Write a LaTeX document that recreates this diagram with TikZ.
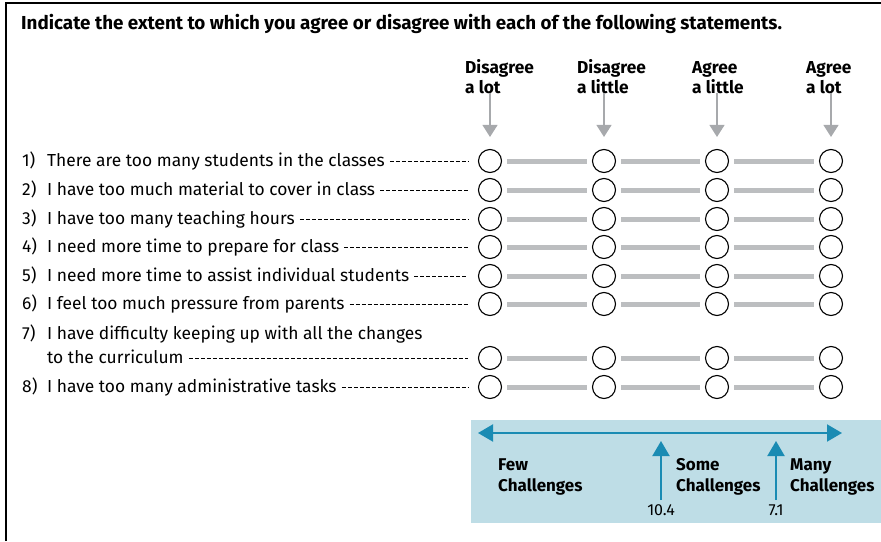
\documentclass[tikz,border=0pt]{standalone}
\usepackage{fontspec}
\setmainfont{Fira Sans}
\usetikzlibrary{positioning,arrows.meta}
\definecolor{boxblue}{HTML}{BEDDE6}
\definecolor{scaleblue}{HTML}{1A8BB3}
\definecolor{bargray}{HTML}{BCBEC0}
\definecolor{tipgray}{HTML}{A7A9AC}

\begin{document}
\begin{tikzpicture}[x=1pt, y=-1pt,
      title/.style={anchor=base west, inner sep=0pt, font=\bfseries\fontsize{18.8}{22}\selectfont},
      header/.style={anchor=base west, inner sep=0pt, align=left, font=\bfseries\fontsize{17.3}{19.5}\selectfont},
      statement/.style={anchor=base west, inner sep=0pt, font=\fontsize{17.4}{24}\selectfont},
      bubble/.style={circle, draw, line width=1.1pt, minimum size=23pt, inner sep=0pt},
      bar/.style={draw=bargray, line width=5pt, shorten <=5pt, shorten >=5pt},
      leader/.style={line width=0.8pt, dash pattern=on 4pt off 2pt, shorten <=5pt, shorten >=10pt},
      pointer/.style={draw=tipgray, line width=1.2pt, shorten >=12pt, -{Triangle[length=12pt, width=15pt]}},
      scalearrow/.style={draw=scaleblue, line width=2pt},
      boxlabel/.style={anchor=base west, inner sep=0pt, align=left, font=\bfseries\fontsize{17}{21}\selectfont},
      number/.style={anchor=base, inner xsep=0pt, inner ysep=4pt, font=\fontsize{16}{18}\selectfont}
      ]
      \useasboundingbox (0,0) rectangle (881,541);
      \draw[line width=2pt] (6,541) -- (6,3) -- (881,3);

      \node[title] (T) at (21,29) {Indicate the extent to which you agree or disagree with each of the following statements.};

      % answer columns
      \node[header] (H1) at (465,93) {Disagree\\a lot};
      \node[header] (H2) at (577,93) {Disagree\\a little};
      \node[header] (H3) at (692,93) {Agree\\a little};
      \node[header] (H4) at (806,93) {Agree\\a lot};

      % statements
      \node[statement] (S1) at (22,166.5) {\makebox[25pt][l]{1)}There are too many students in the classes};
      \node[statement] (S2) at (22,195.5) {\makebox[25pt][l]{2)}I have too much material to cover in class};
      \node[statement] (S3) at (22,224.5) {\makebox[25pt][l]{3)}I have too many teaching hours};
      \node[statement] (S4) at (22,252.5) {\makebox[25pt][l]{4)}I need more time to prepare for class\hspace{10pt}};
      \node[statement] (S5) at (22,281.5) {\makebox[25pt][l]{5)}I need more time to assist individual students};
      \node[statement] (S6) at (22,309.5) {\makebox[25pt][l]{6)}I feel too much pressure from parents};
      \node[statement] (S7) at (22,339.5) {\makebox[25pt][l]{7)}I have difficulty keeping up with all the changes};
      \node[statement] (S7b) at (47,363.5) {to the curriculum\hspace{-5pt}};
      \node[statement] (S8) at (22,392.5) {\makebox[25pt][l]{8)}I have too many administrative tasks\hspace{5pt}};

      % bubbles, bars and leaders
      \foreach \r/\y/\s in {1/161/S1, 2/190/S2, 3/219/S3, 4/247/S4, 5/276/S5, 6/304/S6, 7/358/S7b, 8/387/S8} {
        \foreach \c/\x in {1/490, 2/604, 3/717, 4/831}
          \node[bubble] (C\r-\c) at (\x,\y) {};
        \draw[bar] (C\r-1.east) -- (C\r-2.west);
        \draw[bar] (C\r-2.east) -- (C\r-3.west);
        \draw[bar] (C\r-3.east) -- (C\r-4.west);
        \draw[leader] (C\r-1.west -| \s.east) -- (C\r-1.west);
      }

      \draw[pointer] (H1.south -| C1-1) -- (C1-1.north);
      \draw[pointer] (H2.south -| C1-2) -- (C1-2.north);
      \draw[pointer] (H3.south -| C1-3) -- (C1-3.north);
      \draw[pointer] (H4.south -| C1-4) -- (C1-4.north);

      % scale key
      \fill[boxblue] (471,420) rectangle (881,523);
      \coordinate (FEW) at (478,433);
      \coordinate (MANY) at (842,433);
      \draw[scalearrow, {Triangle[length=15pt, width=17pt]}-{Triangle[length=15pt, width=17pt]}] (FEW) -- (MANY);
      \node[boxlabel] (L1) at (498,491) {Few\\Challenges};
      \node[boxlabel] (L2) at (676,491) {Some\\Challenges};
      \node[boxlabel] (L3) at (790,491) {Many\\Challenges};
      \node[number] (N1) at (661,515) {10.4};
      \node[number] (N2) at (776,515) {7.1};
      \draw[scalearrow, shorten >=8pt, -{Triangle[length=15pt, width=17pt]}] (N1.north) -- (N1.north |- FEW);
      \draw[scalearrow, shorten >=8pt, -{Triangle[length=15pt, width=17pt]}] (N2.north) -- (N2.north |- FEW);
    \end{tikzpicture}
\end{document}
